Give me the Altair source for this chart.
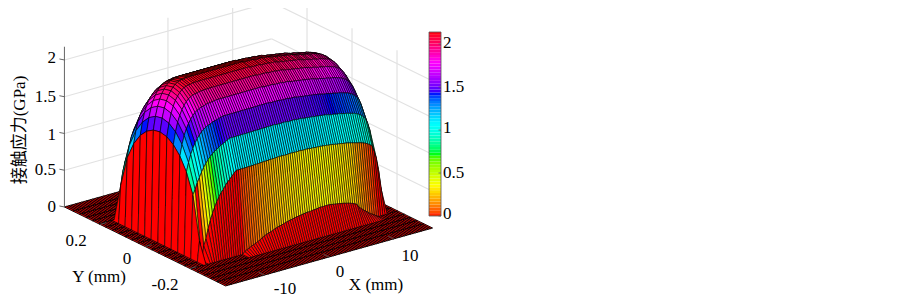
import altair as alt
import numpy as np

# Surface stations and profiles. The surface itself has too many
# cells to read one by one: each column is rebuilt from its read peak and half-widths,
# using an elliptical (Hertz) cross-section that fits the band heights seen in the image.
x_start, x_step, x_count = -16.0, 1/3, 97
y_grid = [-0.358, -0.320, -0.291, -0.262, -0.233, -0.204, -0.175, -0.146, -0.117, -0.088, -0.059, -0.030, 0.0,
          0.030, 0.059, 0.088, 0.117, 0.146, 0.175, 0.204, 0.233, 0.262, 0.291, 0.320, 0.358]
peak = [0, 0, 0, 0, 0, 0, 0,
        1.50, 1.68, 1.81, 1.90, 1.97, 2.02, 2.06, 2.09, 2.11, 2.12, 2.13, 2.13,
        2.14, 2.14, 2.14, 2.14, 2.14, 2.14, 2.14, 2.14, 2.14, 2.14, 2.14, 2.14, 2.14, 2.14, 2.14, 2.14, 2.14, 2.14, 2.14,
        2.14, 2.14, 2.14, 2.14, 2.14, 2.14, 2.14, 2.14, 2.13, 2.13, 2.13, 2.13, 2.13, 2.12, 2.12, 2.12, 2.12, 2.11, 2.11,
        2.11,
        2.10, 2.09, 2.09, 2.08, 2.08, 2.07, 2.07, 2.06, 2.06, 2.05, 2.05, 2.04, 2.03, 2.02, 2.02, 2.01, 2.00, 2.00, 1.99, 1.98,
        1.98, 1.97, 1.96, 1.95, 1.94, 1.92, 1.90, 1.87, 1.83, 1.78, 1.71, 1.60, 1.35, 1.00, 0.40,
        0, 0, 0, 0]
half_width = [.001, .001, .001, .001, .001, .001, .001,
              .178, .175, .176, .177, .179, .181, .183, .185, .187, .189, .191, .1925,
              .1945, .1965, .198, .200, .202, .204,
              .20402, .20405, .20408, .20413, .20418, .20422, .2043, .20438, .20451, .20462, .20474, .20482,
              .20491, .205, .20515, .20525, .20536, .20542, .20554, .20566, .20572, .20586, .20592, .20606,
              .20613, .2062, .20628, .20635, .20642, .2065, .2065, .20658, .20665, .20668, .20678, .20686,
              .20689, .20689, .20693, .20693, .20688, .2068, .20673, .20666, .2066, .20652, .20646, .20631,
              .20624, .20612, .20597, .20579, .2056, .20503, .2048, .20458, .20441, .20427, .20415, .20409,
              .20404, .20401, .204, .200, .197, .193, .185, .170,
              .001, .001, .001, .001]
# far side (y > 0) of the same columns, read from the left silhouette
half_width_far = [.001, .001, .001, .001, .001, .001, .001,
                  .186, .192, .196, .198, .199, .200, .200, .201, .201, .202, .202, .202,
                  .203, .203, .203, .204, .204, .204, .204, .204, .204, .204, .204, .204, .204, .204, .205, .205, .205, .205,
                  .205, .205, .205, .205, .205, .205, .205, .205, .205, .205, .205, .205,
                  .205, .205, .205, .205, .205, .205, .205, .205, .205, .205, .205, .205,
                  .205, .205, .205, .205, .205, .205, .205, .205, .205, .205, .205, .205,
                  .205, .205, .205, .205, .205, .205, .205, .205, .205, .205, .204, .204,
                  .204, .204, .204, .200, .197, .193, .185, .170,
                  .001, .001, .001, .001]
assert len(peak) == x_count and len(half_width) == x_count and len(half_width_far) == x_count
z_ticks = [0, 0.5, 1, 1.5, 2]
x_ticks = [-10, 0, 10]
y_ticks = [0.2, 0, -0.2]
hsv_stops = ['#ff0000', '#ffff00', '#00ff00', '#00ffff', '#0000ff', '#ff00ff', '#ff0000']
z_max = 2.14
x_lim, y_lim, z_top = 16.0, 0.358, 2.18

def project(x, y, z):
    return 248.5 + 6.47 * x - 225.0 * y, 217.5 - 1.81 * x - 110.3 * y - 73.5 * z

x_grid = x_start + x_step * np.arange(x_count)
Z = np.zeros((len(y_grid), x_count))
for j, yv in enumerate(y_grid):
    for i in range(x_count):
        r = yv / (half_width_far[i] if yv > 0 else half_width[i])
        Z[j, i] = peak[i] * np.sqrt(1 - r * r) if abs(r) < 1 else 0.0

floor_cells, raised_cells = [], []
for j in range(len(y_grid) - 2, -1, -1):
    for i in range(x_count - 2, -1, -1):
        ring, corners = [], []
        for jj, ii in [(j, i), (j, i + 1), (j + 1, i + 1), (j + 1, i), (j, i)]:
            sx, sy = project(x_grid[ii], y_grid[jj], Z[jj, ii])
            ring.append([round(float(sx - 8), 2), round(float(sy - 8), 2)])
            corners.append(Z[jj, ii])
        cell = {"type": "Feature", "geometry": {"type": "Polygon", "coordinates": [ring]},
                "properties": {"z": round(float(Z[j, i]), 3)}}
        (raised_cells if max(corners) > 0 else floor_cells).append(cell)

fill_scale = alt.Scale(domain=list(np.linspace(0, z_max, 7)), range=hsv_stops)

def cells(rows, width):
    return alt.Chart(alt.Data(values=rows)).mark_geoshape(stroke='black', strokeWidth=width).encode(
        fill=alt.Fill('properties.z:Q', scale=fill_scale, legend=None)
    ).project(type='identity', scale=1, translate=[0, 0])

X = alt.Scale(domain=[8, 895], range=[0, 887])
Y = alt.Scale(domain=[8, 301], range=[0, 293])

def segs(rows, color, width):
    return alt.Chart(alt.Data(values=rows)).mark_rule(color=color, strokeWidth=width, clip=True).encode(
        x=alt.X('x:Q', scale=X, axis=None), x2='x2:Q',
        y=alt.Y('y:Q', scale=Y, axis=None), y2='y2:Q')

def seg(p, q):
    a, b = project(*p), project(*q)
    return {"x": a[0], "y": a[1], "x2": b[0], "y2": b[1]}

grid = []
for z in z_ticks[1:]:
    grid.append(seg((-x_lim, y_lim, z), (x_lim, y_lim, z)))
    grid.append(seg((x_lim, y_lim, z), (x_lim, -y_lim, z)))
for xv in x_ticks:
    grid.append(seg((xv, y_lim, 0), (xv, y_lim, z_top)))
for yv in y_ticks:
    grid.append(seg((x_lim, yv, 0), (x_lim, yv, z_top)))

axes = [seg((-x_lim, y_lim, 0), (-x_lim, y_lim, z_top))]
for z in z_ticks:
    p = project(-x_lim, y_lim, z)
    axes.append({"x": p[0], "y": p[1], "x2": p[0] - 5, "y2": p[1] - 1})
for xv in x_ticks:
    axes.append(seg((xv, -y_lim, 0), (xv, -y_lim + 0.025, 0)))
for yv in y_ticks:
    axes.append(seg((-x_lim, yv, 0), (-x_lim + 1.0, yv, 0)))

def texts(rows, align='center', angle=0, size=17):
    return alt.Chart(alt.Data(values=rows)).mark_text(
        font='Liberation Serif, Noto Sans CJK SC', fontSize=size, align=align, baseline='middle',
        angle=angle, color='black').encode(
        x=alt.X('x:Q', scale=X, axis=None), y=alt.Y('y:Q', scale=Y, axis=None), text='t:N')

z_labels = [{"t": t, "x": 56, "y": y} for t, y in zip(['2', '1.5', '1', '0.5', '0'], [58, 97, 135, 170, 207])]
y_labels = [{"t": t, "x": x, "y": y} for t, x, y in [('0.2', 76, 241), ('0', 127, 259), ('-0.2', 165, 285)]]
x_labels = [{"t": t, "x": x, "y": y} for t, x, y in [('10', 410, 256), ('0', 340, 272), ('-10', 285, 289),
                                                     ('X (mm)', 376, 285), ('Y (mm)', 99, 277)]]
c_labels = [{"t": t, "x": 443, "y": y} for t, y in zip(['2', '1.5', '1', '0.5', '0'], [43, 87, 128, 173, 214])]

levels = np.linspace(0, z_max, 65)
bar_rows = [{"lo": round(float(levels[k]), 4), "hi": round(float(levels[k + 1]), 4),
             "mid": round(float((levels[k] + levels[k + 1]) / 2), 4), "x": 429, "x2": 441} for k in range(64)]
BAR = alt.Scale(domain=[0, z_max], range=[208, 24])
bar = alt.Chart(alt.Data(values=bar_rows)).mark_rect().encode(
    x=alt.X('x:Q', scale=X, axis=None), x2='x2:Q',
    y=alt.Y('lo:Q', scale=BAR, axis=None), y2='hi:Q',
    fill=alt.Fill('mid:Q', scale=fill_scale, legend=None))
frame = alt.Chart(alt.Data(values=[{"x": 429, "x2": 441, "lo": 0, "hi": z_max}])).mark_rect(
    fill=None, stroke='#555555', strokeWidth=0.8).encode(
    x=alt.X('x:Q', scale=X, axis=None), x2='x2:Q',
    y=alt.Y('lo:Q', scale=BAR, axis=None), y2='hi:Q')
bar_ticks = alt.Chart(alt.Data(values=[{"x": 438.5, "x2": 441, "z": z} for z in z_ticks])).mark_rule(
    color='#555555', strokeWidth=0.7).encode(
    x=alt.X('x:Q', scale=X, axis=None), x2='x2:Q', y=alt.Y('z:Q', scale=BAR, axis=None))

chart = alt.layer(
    segs(grid, '#e2e2e2', 1.2),
    cells(floor_cells, 0.9),
    cells(raised_cells, 0.6),
    segs(axes, '#555555', 0.9),
    texts(z_labels, align='right'),
    texts(y_labels),
    texts(x_labels),
    texts(c_labels, align='left'),
    texts([{"t": "接触应力(GPa)", "x": 20, "y": 130}], angle=270),
    bar,
    frame,
    bar_ticks,
).resolve_scale(x='independent', y='independent').properties(
    width=887, height=293, padding=0,
    autosize=alt.AutoSizeParams(type='none'),
    background='white'
).configure_view(stroke=None)

chart.save("out.html", embed_options={"renderer": "svg", "actions": False})
